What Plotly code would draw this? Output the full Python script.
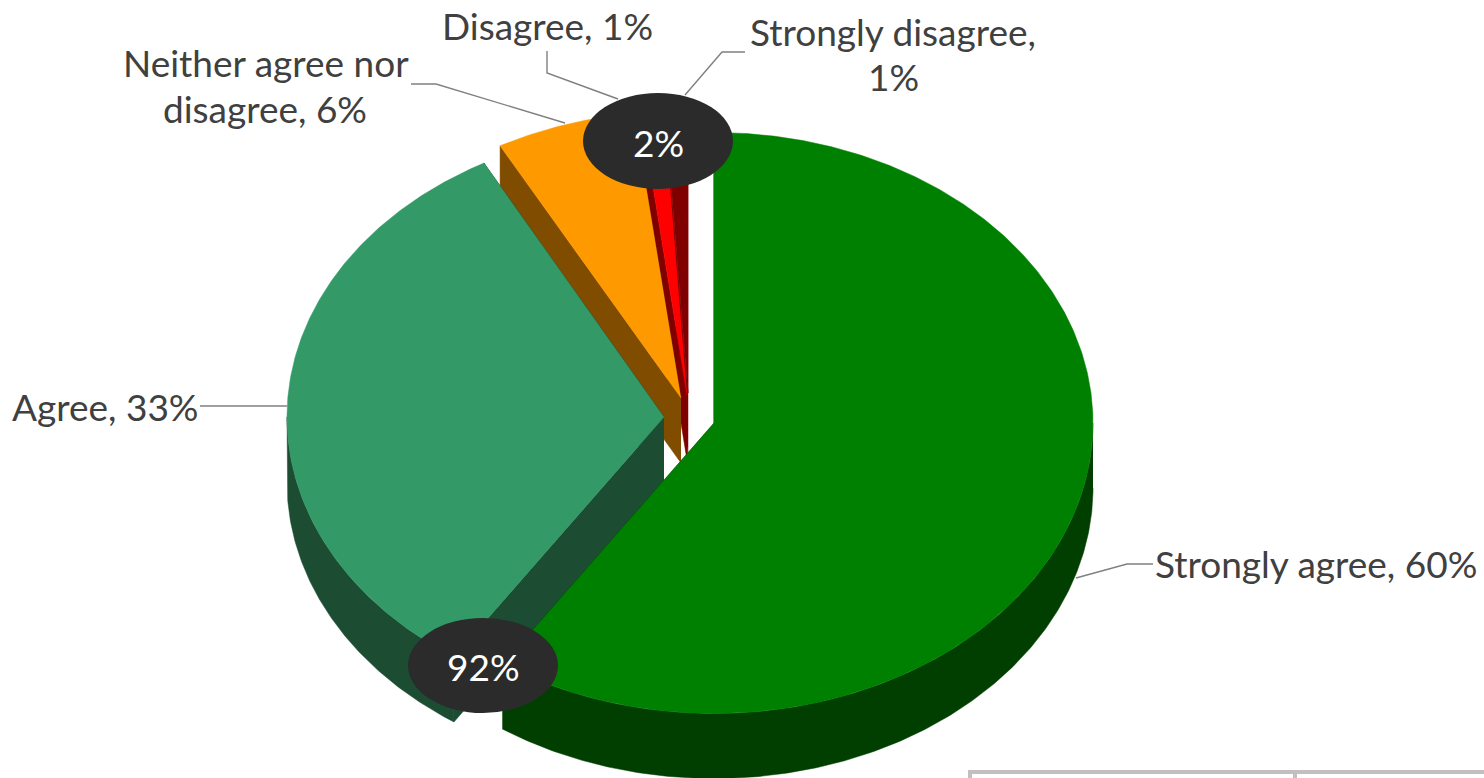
import numpy as np
import plotly.graph_objects as go

CATEGORIES = ["Strongly agree", "Agree", "Neither agree nor disagree", "Disagree", "Strongly disagree"]
VALUES = [60, 33, 6, 1, 1]
TOP_COLORS = ["#008000", "#339966", "#FF9900", "#FF0000", "#800000"]
WALL_COLORS = ["#003F00", "#1C4D33", "#804D00", "#800000", "#800000"]
BUBBLE_TEXTS = ["2%", "92%"]

W, H = 1484, 778
DEPTH = 65
RADIUS_X = [379, 377, 379, 379, 379]
RADIUS_Y = [290.5, 289, 287, 291, 291]
APEX_X = [714, 664, 681, 687, 688]
APEX_Y = [423, 417, 398, 395, 393]
FONT = "Lato, Carlito, 'Open Sans', sans-serif"
TEXT = "#404040"
LEADER = "#808080"

total = sum(VALUES)
edges = np.concatenate([[0], np.cumsum(VALUES)]) / total * 360

fig = go.Figure()


def poly(xs, ys, color):
    fig.add_trace(go.Scatter(
        x=list(xs), y=list(ys), mode="lines", fill="toself", fillcolor=color,
        line=dict(color=color, width=0.5), hoverinfo="skip", showlegend=False))


def rim(i, a0, a1):
    t = np.radians(np.linspace(a0, a1, max(3, int(abs(a1 - a0) * 2))))
    return APEX_X[i] + RADIUS_X[i] * np.sin(t), APEX_Y[i] - RADIUS_Y[i] * np.cos(t)


# Back slices first, so that the nearer ones cover them.
for i in reversed(range(len(VALUES))):
    a0, a1 = edges[i], edges[i + 1]
    cx, cy = APEX_X[i], APEX_Y[i]
    for a in (a0, a1):
        ex, ey = rim(i, a, a)
        poly([cx, ex[0], ex[0], cx], [cy, ey[0], ey[0] + DEPTH, cy + DEPTH], WALL_COLORS[i])
    lo, hi = max(a0, 90), min(a1, 270)
    if hi > lo:
        rx, ry = rim(i, lo, hi)
        poly(np.concatenate([rx, rx[::-1]]), np.concatenate([ry, ry[::-1] + DEPTH]), WALL_COLORS[i])
    rx, ry = rim(i, a0, a1)
    poly(np.concatenate([[cx], rx]), np.concatenate([[cy], ry]), TOP_COLORS[i])

# Leader lines
LEADERS = [
    ([1153, 1127, 1076], [564, 564, 578]),
    ([200, 287], [406, 406]),
    ([411, 436, 565], [84, 84, 123]),
    ([547, 547, 618], [51, 73, 99]),
    ([745, 722, 685], [52, 52, 95]),
]
for xs, ys in LEADERS:
    fig.add_trace(go.Scatter(x=xs, y=ys, mode="lines", line=dict(color=LEADER, width=1.4),
                             hoverinfo="skip", showlegend=False))

shapes = [
    dict(type="circle", xref="x", yref="y", x0=583, x1=733, y0=93, y1=189,
         fillcolor="#2B2B2B", line=dict(width=0), layer="above"),
    dict(type="circle", xref="x", yref="y", x0=408, x1=558, y0=618, y1=713,
         fillcolor="#2B2B2B", line=dict(width=0), layer="above"),
    dict(type="line", xref="x", yref="y", x0=968, x1=1484, y0=772, y1=772, line=dict(color="#C0C0C0", width=4)),
    dict(type="line", xref="x", yref="y", x0=970, x1=970, y0=771, y1=778, line=dict(color="#C0C0C0", width=4)),
    dict(type="line", xref="x", yref="y", x0=1295, x1=1295, y0=771, y1=778, line=dict(color="#C0C0C0", width=4)),
]


def note(text, x, y, anchor="center", color=TEXT):
    return dict(text=text, x=x, y=y, xref="x", yref="y", xanchor=anchor, yanchor="middle",
                showarrow=False, align="center", font=dict(family=FONT, size=37, color=color))


def lab(i):
    return f"{CATEGORIES[i]}, {VALUES[i]}%"


annotations = [
    note(lab(0), 1153, 563, "left"),
    note(lab(1), 10, 406, "left"),
    note("Neither agree nor", 266, 62),
    note(f"disagree, {VALUES[2]}%", 265, 108),
    note(lab(3), 547, 25),
    note(f"{CATEGORIES[4]},", 893, 31),
    note(f"{VALUES[4]}%", 893, 76),
    note(BUBBLE_TEXTS[0], 658, 142, color="#FFFFFF"),
    note(BUBBLE_TEXTS[1], 483, 666, color="#FFFFFF"),
]

fig.update_layout(
    width=W, height=H, autosize=False, margin=dict(l=0, r=0, t=0, b=0),
    paper_bgcolor="#FFFFFF", plot_bgcolor="#FFFFFF", showlegend=False,
    xaxis=dict(range=[0, W], visible=False, fixedrange=True),
    yaxis=dict(range=[H, 0], visible=False, fixedrange=True),
    shapes=shapes, annotations=annotations,
)

fig.write_html("out.html", config={"displayModeBar": False},
               post_script="document.body.style.margin='0';document.body.style.overflow='hidden';")
